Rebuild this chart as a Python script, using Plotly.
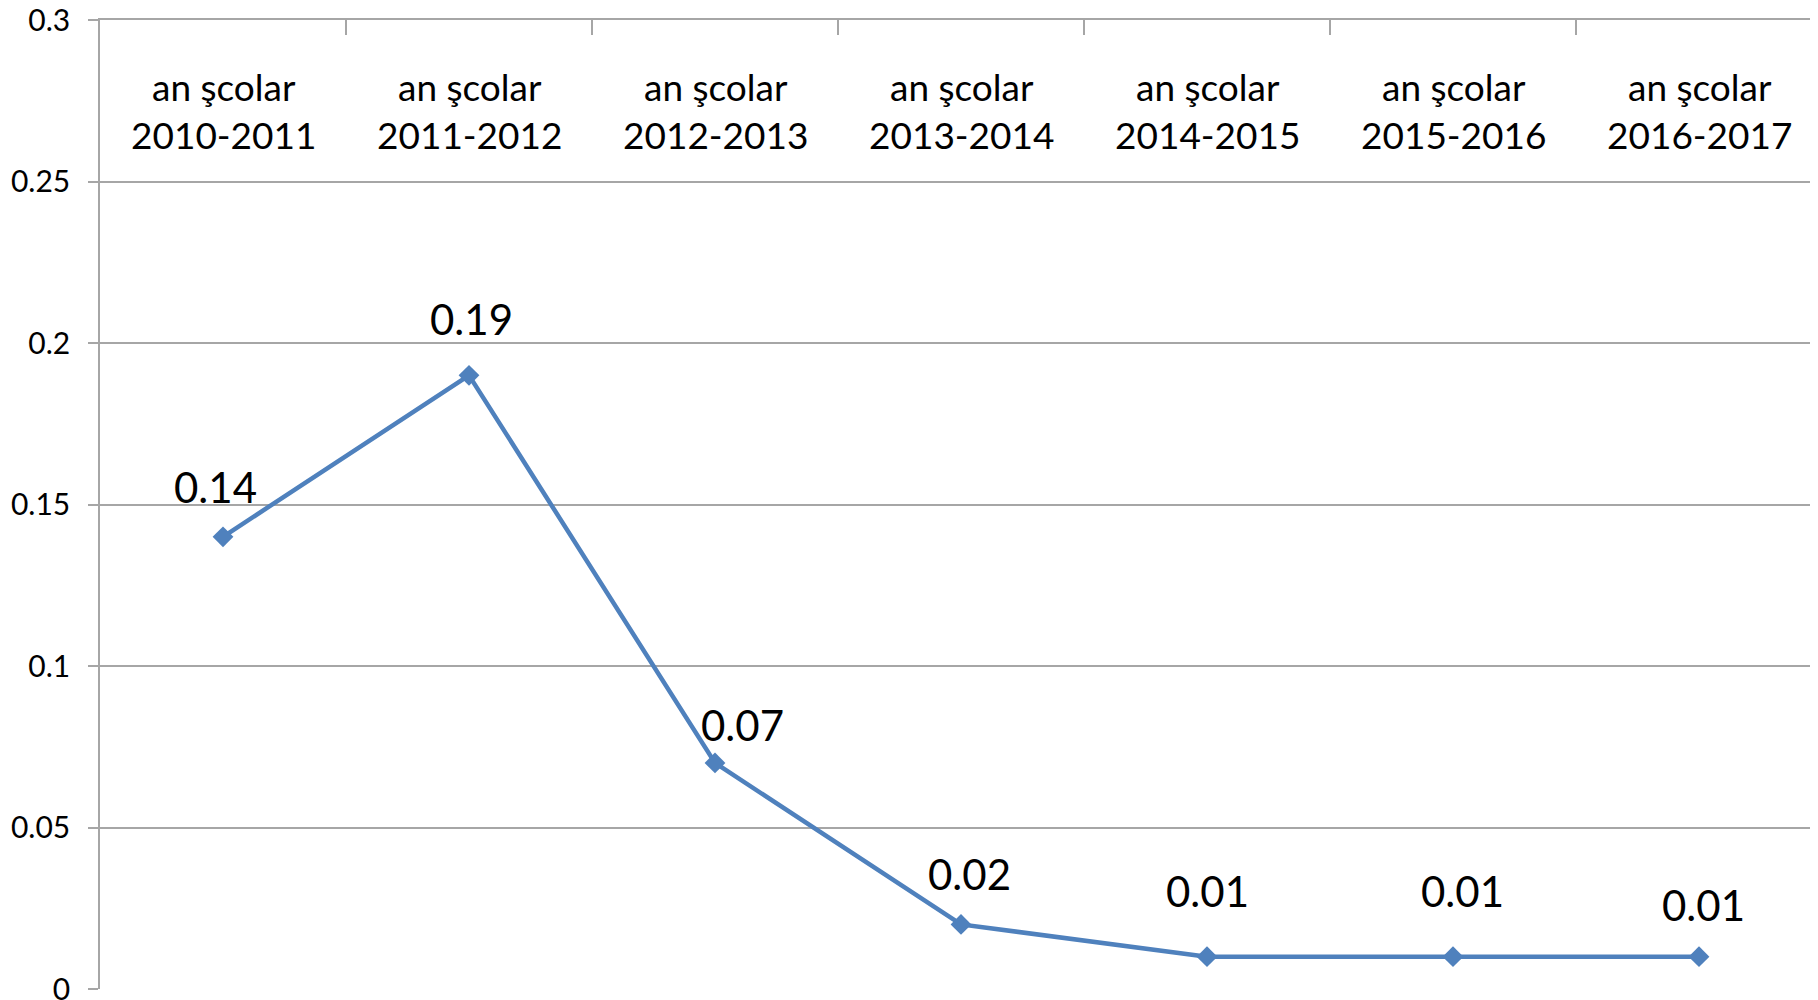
import plotly.graph_objects as go

# data
school_years = ['an şcolar<br>2010-2011', 'an şcolar<br>2011-2012', 'an şcolar<br>2012-2013',
                'an şcolar<br>2013-2014', 'an şcolar<br>2014-2015', 'an şcolar<br>2015-2016',
                'an şcolar<br>2016-2017']
rates = [0.14, 0.19, 0.07, 0.02, 0.01, 0.01, 0.01]
y_ticks = [0, 0.05, 0.1, 0.15, 0.2, 0.25, 0.3]
y_tick_text = ['0', '0.05', '0.1', '0.15', '0.2', '0.25', '0.3']

# label offsets (pixels) the way Excel placed them
label_dx = [-8, 2, 27, 8, 0, 9, 4]
label_dy = [50, 56, 38, 50, 66, 66, 52]

line_color = '#4F81BD'
grid_color = '#A6A6A6'
font_family = 'Lato, Open Sans, sans-serif'

fig = go.Figure()

fig.add_trace(go.Scatter(
    x=school_years,
    y=rates,
    mode='lines+markers',
    line=dict(color=line_color, width=4.5),
    marker=dict(symbol='diamond', size=16, color=line_color),
    showlegend=False,
    hoverinfo='x+y',
))

# value labels
for cat, val, dx, dy in zip(school_years, rates, label_dx, label_dy):
    fig.add_annotation(
        x=cat, y=val, text=f'{val:.2f}',
        showarrow=False, xshift=dx, yshift=dy,
        font=dict(family=font_family, size=42, color='#000000'),
    )

# category labels sit inside the plot, under the top axis
for cat in school_years:
    fig.add_annotation(
        x=cat, y=1, yref='paper', yanchor='top', yshift=-42,
        text=cat, showarrow=False,
        font=dict(family=font_family, size=37, color='#000000'),
    )

# page body adds an 8px offset, margins compensate for it
fig.update_layout(
    width=1818,
    height=1000,
    margin=dict(l=92, r=4, t=12, b=19),
    paper_bgcolor='white',
    plot_bgcolor='white',
    font=dict(family=font_family, color='#000000'),
)

fig.update_xaxes(
    type='category',
    side='top',
    range=[-0.5, 6.5],
    automargin=False,
    showline=True, linecolor=grid_color, linewidth=1.5,
    ticks='inside', ticklen=15, tickcolor=grid_color, tickwidth=1.5,
    tickson='boundaries',
    showticklabels=False,
    showgrid=False,
    fixedrange=True,
)

fig.update_yaxes(
    range=[0, 0.3],
    tickvals=y_ticks,
    ticktext=y_tick_text,
    automargin=False,
    ticklabeloverflow='allow',
    showline=True, linecolor=grid_color, linewidth=1.5,
    ticks='outside', ticklen=10, tickcolor=grid_color, tickwidth=1.5,
    showgrid=True, gridcolor=grid_color, gridwidth=1.5,
    zeroline=False,
    tickfont=dict(family=font_family, size=30, color='#000000'),
    ticklabelstandoff=12,
    fixedrange=True,
)

fig.write_html('out.html')
